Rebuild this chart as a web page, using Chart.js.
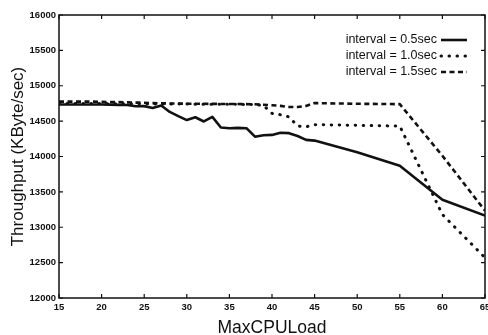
<!DOCTYPE html>
<html>
<head>
<meta charset="utf-8">
<script src="https://cdn.jsdelivr.net/npm/chart.js@4.4.1/dist/chart.umd.min.js"></script>
<style>
    html, body { margin: 0; padding: 0; background: #fff; }
    #wrap { width: 488px; height: 335px; }
</style>
</head>
<body>
<div id="wrap"><canvas id="throughputChart" width="488" height="335"></canvas></div>
<script>
// MaxCPULoad values (x)
var loads = [15, 16, 17, 18, 19, 20, 21, 22, 23, 24, 25, 26, 27, 28, 29, 30,
    31, 32, 33, 34, 35, 36, 37, 38, 39, 40, 41, 42, 43, 44, 45, 50, 55, 60, 65];

// throughput, KByte/sec
var interval05 = [14735, 14735, 14735, 14735, 14735, 14735, 14733, 14730, 14728, 14710, 14712, 14685, 14722, 14630, 14570, 14515,
    14555, 14495, 14560, 14410, 14400, 14405, 14400, 14280, 14300, 14305, 14335, 14330, 14290, 14235, 14225, 14060, 13870, 13390, 13165];
var interval10 = [14748, 14748, 14748, 14748, 14748, 14748, 14747, 14746, 14745, 14745, 14744, 14744, 14743, 14742, 14742, 14741,
    14740, 14740, 14740, 14739, 14738, 14737, 14736, 14735, 14720, 14610, 14590, 14560, 14430, 14420, 14450, 14440, 14430, 13180, 12570];
var interval15 = [14775, 14775, 14775, 14775, 14775, 14772, 14770, 14768, 14765, 14762, 14760, 14755, 14752, 14750, 14748, 14746,
    14745, 14745, 14744, 14743, 14742, 14741, 14740, 14738, 14732, 14725, 14715, 14700, 14700, 14715, 14755, 14745, 14740, 14010, 13235];

var seriesNames = ['interval = 0.5sec', 'interval = 1.0sec', 'interval = 1.5sec'];
var xTicks = [15, 20, 25, 30, 35, 40, 45, 50, 55, 60, 65];
var yTicks = [12000, 12500, 13000, 13500, 14000, 14500, 15000, 15500, 16000];

function toPoints(values) {
    return loads.map(function (x, i) { return {x: x, y: values[i]}; });
}

var lineStyles = [
    {borderDash: [], borderCapStyle: 'butt', borderWidth: 2.6},
    {borderDash: [0.5, 7.5], borderCapStyle: 'round', borderWidth: 3},
    {borderDash: [5, 3.5], borderCapStyle: 'butt', borderWidth: 2.6}
];

// frame + inward ticks on all four sides, and the legend on the right
var framePlugin = {
    id: 'frame',
    afterDraw: function (chart) {
        var ctx = chart.ctx;
        var a = chart.chartArea;
        var xs = chart.scales.x, ys = chart.scales.y;
        ctx.save();
        ctx.strokeStyle = '#111';
        ctx.lineWidth = 1.5;
        ctx.strokeRect(a.left, a.top, a.right - a.left, a.bottom - a.top);
        ctx.lineWidth = 1.2;
        ctx.beginPath();
        xTicks.forEach(function (v) {
            var px = xs.getPixelForValue(v);
            ctx.moveTo(px, a.bottom); ctx.lineTo(px, a.bottom - 4);
            ctx.moveTo(px, a.top); ctx.lineTo(px, a.top + 4);
        });
        yTicks.forEach(function (v) {
            var py = ys.getPixelForValue(v);
            ctx.moveTo(a.left, py); ctx.lineTo(a.left + 4, py);
            ctx.moveTo(a.right, py); ctx.lineTo(a.right - 4, py);
        });
        ctx.stroke();

        // legend
        ctx.font = '12.5px "Liberation Sans", Arial, sans-serif';
        ctx.textAlign = 'right';
        ctx.textBaseline = 'middle';
        ctx.fillStyle = '#111';
        for (var i = 0; i < seriesNames.length; i++) {
            var y = 40 + i * 16;
            ctx.fillText(seriesNames[i], 437, y);
            ctx.beginPath();
            ctx.lineWidth = lineStyles[i].borderWidth;
            ctx.lineCap = lineStyles[i].borderCapStyle;
            ctx.setLineDash(lineStyles[i].borderDash);
            ctx.moveTo(441, y);
            ctx.lineTo(467, y);
            ctx.stroke();
        }
        ctx.restore();
    }
};

var tickFont = {family: '"Liberation Sans", Arial, sans-serif', size: 9.5, weight: 'bold'};

var canvas = document.getElementById('throughputChart');
var chart = new Chart(canvas.getContext('2d'), {
    type: 'line',
    data: {
        datasets: [0, 1, 2].map(function (i) {
            var vals = [interval05, interval10, interval15][i];
            return {
                label: seriesNames[i],
                data: toPoints(vals),
                borderColor: '#111',
                borderWidth: lineStyles[i].borderWidth,
                borderDash: lineStyles[i].borderDash,
                borderCapStyle: lineStyles[i].borderCapStyle,
                borderJoinStyle: 'round',
                pointRadius: 0,
                fill: false,
                tension: 0
            };
        })
    },
    options: {
        responsive: false,
        animation: false,
        layout: {padding: {top: 15, right: 3, left: 0, bottom: 0}},
        plugins: {
            legend: {display: false},
            tooltip: {enabled: false}
        },
        scales: {
            x: {
                type: 'linear',
                min: 15,
                max: 65,
                afterBuildTicks: function (scale) {
                    scale.ticks = xTicks.map(function (v) { return {value: v}; });
                },
                afterFit: function (scale) {
                    scale.height = 37;
                    scale.paddingLeft = 0;
                    scale.paddingRight = 0;
                },
                grid: {display: false, drawTicks: false},
                border: {display: false},
                ticks: {
                    color: '#111',
                    padding: 4,
                    maxRotation: 0,
                    autoSkip: false,
                    font: tickFont,
                    callback: function (value) { return String(value); }
                },
                title: {
                    display: true,
                    text: 'MaxCPULoad',
                    color: '#111',
                    padding: {top: 0, bottom: -4},
                    font: {family: '"Liberation Sans", Arial, sans-serif', size: 17.5}
                }
            },
            y: {
                min: 12000,
                max: 16000,
                afterBuildTicks: function (scale) {
                    scale.ticks = yTicks.map(function (v) { return {value: v}; });
                },
                afterFit: function (scale) {
                    scale.width = 59;
                    scale.paddingTop = 0;
                    scale.paddingBottom = 0;
                },
                grid: {display: false, drawTicks: false},
                border: {display: false},
                ticks: {
                    color: '#111',
                    padding: 3,
                    autoSkip: false,
                    font: tickFont,
                    callback: function (value) { return String(value); }
                },
                title: {
                    display: true,
                    text: 'Throughput (KByte/sec)',
                    color: '#111',
                    padding: {top: 8, bottom: 0},
                    font: {family: '"Liberation Sans", Arial, sans-serif', size: 17}
                }
            }
        }
    },
    plugins: [framePlugin]
});
</script>
</body>
</html>
